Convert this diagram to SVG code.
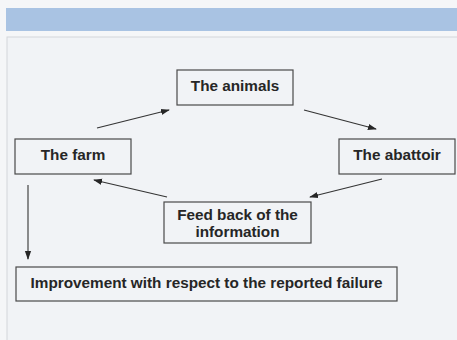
<svg xmlns="http://www.w3.org/2000/svg" width="457" height="340" viewBox="0 0 457 340">
<style>
.box{fill:none;stroke:#4a4a4a;stroke-width:1.2}
.lbl{font-family:"Liberation Sans",Arial,sans-serif;font-weight:bold;font-size:15.3px;fill:#262626;text-anchor:middle}
.con{stroke:#333;stroke-width:1.1;fill:none;marker-end:url(#ah)}
</style>
<defs>
<marker id="ah" viewBox="0 0 10 10" refX="9" refY="5" markerWidth="9" markerHeight="9" markerUnits="userSpaceOnUse" orient="auto">
<path d="M0,1.5 L10,5 L0,8.5 z" fill="#262626"/>
</marker>
</defs>
<rect x="0" y="0" width="457" height="340" fill="#f5f6f8"/>
<rect x="6" y="8" width="451" height="23" fill="#a9c3e3"/>
<rect x="7" y="37" width="451" height="310" fill="#f1f3f6" stroke="#d4d6da" stroke-width="1"/>
<g id="connectors">
<line class="con" x1="97" y1="128" x2="169" y2="110"/>
<line class="con" x1="304" y1="110" x2="376" y2="129"/>
<line class="con" x1="382" y1="179" x2="310" y2="197"/>
<line class="con" x1="167" y1="197" x2="94" y2="180"/>
<line class="con" x1="28" y1="185" x2="28" y2="259"/>
</g>
<g id="animals">
<rect class="box" x="177" y="70" width="116" height="35"/>
<text class="lbl" x="235" y="91">The animals</text>
</g>
<g id="farm">
<rect class="box" x="15" y="139" width="116" height="35"/>
<text class="lbl" x="73" y="160">The farm</text>
</g>
<g id="abattoir">
<rect class="box" x="339" y="139" width="116" height="35"/>
<text class="lbl" x="397" y="160">The abattoir</text>
</g>
<g id="feedback">
<rect class="box" x="164" y="202" width="147" height="41"/>
<text class="lbl" x="237.5" y="220">Feed back of the</text>
<text class="lbl" x="237.5" y="237">information</text>
</g>
<g id="improvement">
<rect class="box" x="16" y="267" width="381" height="34"/>
<text class="lbl" x="206.5" y="288">Improvement with respect to the reported failure</text>
</g>
</svg>
